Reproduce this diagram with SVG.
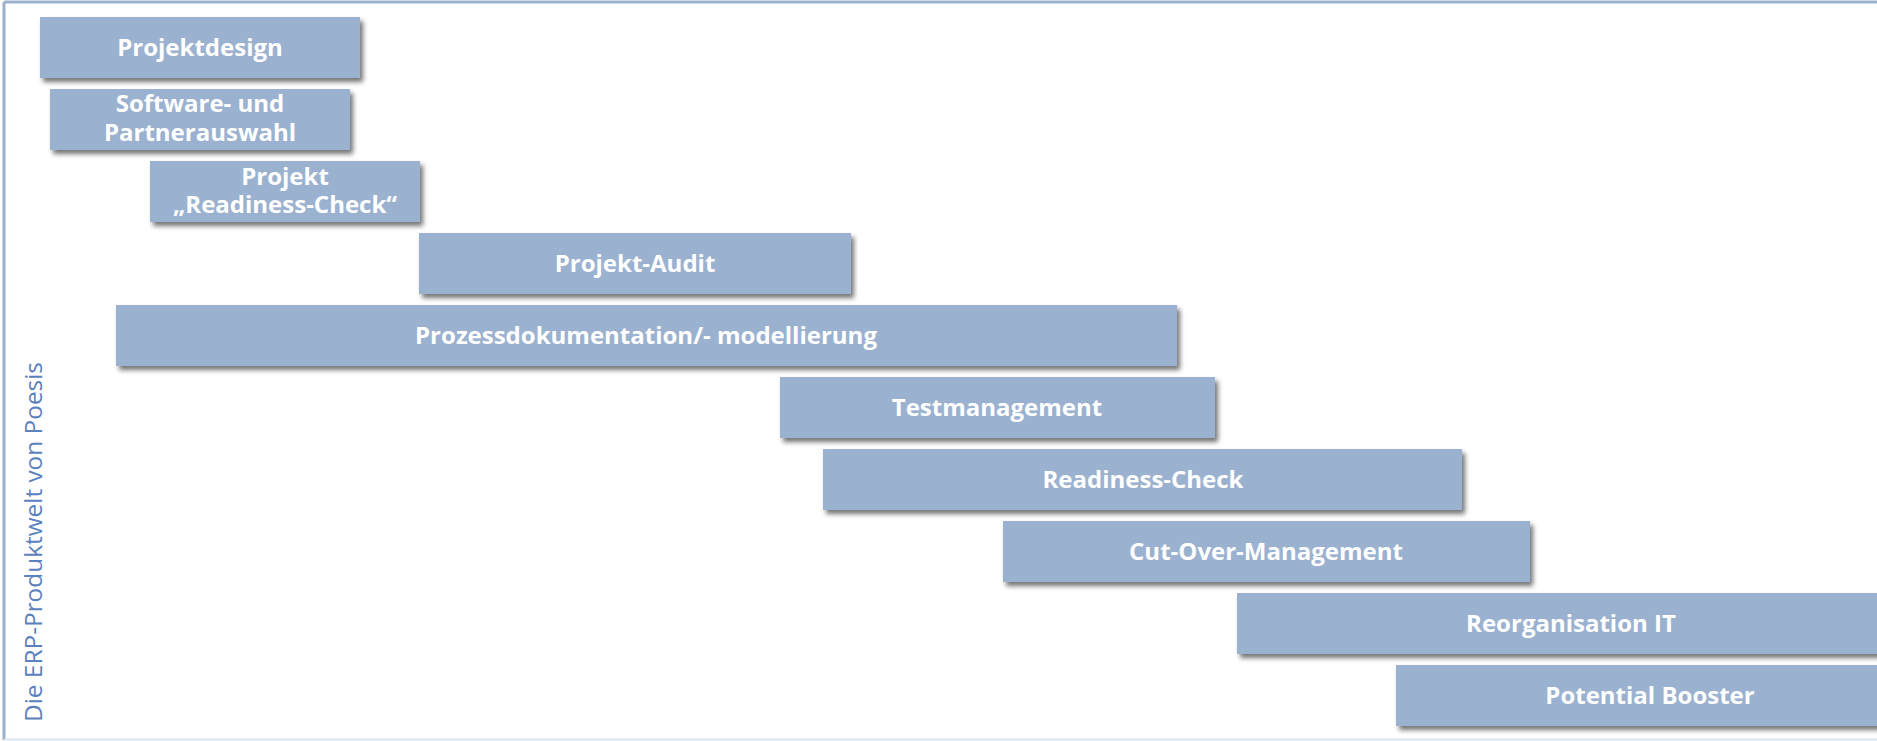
<svg xmlns="http://www.w3.org/2000/svg" width="1877" height="741" viewBox="0 0 1877 741">
<defs>
<filter id="sh" x="-5%" y="-20%" width="110%" height="150%">
<feDropShadow dx="3" dy="4" stdDeviation="2.5" flood-color="#000" flood-opacity="0.55"/>
</filter>
</defs>
<style>
.bar{fill:#9bb1d0;filter:url(#sh)}
.lbl{font-family:"Open Sans","Noto Sans",sans-serif;font-weight:bold;font-size:24px;fill:#ffffff;text-anchor:middle}
.side{font-family:"Open Sans","Noto Sans",sans-serif;font-weight:400;font-size:23px;fill:#5b82bd}
</style>
<rect x="0" y="0" width="1877" height="741" fill="#ffffff"/>
<g id="frame">
<line x1="4" y1="2" x2="1877" y2="2" stroke="#9bb1d0" stroke-width="3"/>
<line x1="4" y1="2" x2="4" y2="740" stroke="#9bb1d0" stroke-width="3"/>
<line x1="4" y1="739.5" x2="1877" y2="739.5" stroke="#dce5f1" stroke-width="2"/>
</g>
<text class="side" transform="translate(42,722) rotate(-90)" textLength="360" lengthAdjust="spacingAndGlyphs">Die ERP-Produktwelt von Poesis</text>
<g id="n1"><rect class="bar" x="40" y="17" width="320" height="61"/><text class="lbl" x="200" y="55.5">Projektdesign</text></g>
<g id="n2"><rect class="bar" x="50" y="89" width="300" height="61"/><text class="lbl" x="200" y="112">Software- und</text><text class="lbl" x="200" y="141">Partnerauswahl</text></g>
<g id="n3"><rect class="bar" x="150" y="161" width="270" height="61"/><text class="lbl" x="285" y="184.5">Projekt</text><text class="lbl" x="285" y="213">„Readiness-Check“</text></g>
<g id="n4"><rect class="bar" x="419" y="233" width="432" height="61"/><text class="lbl" x="635" y="271.5">Projekt-Audit</text></g>
<g id="n5"><rect class="bar" x="116" y="305" width="1061" height="61"/><text class="lbl" x="646" y="343.5">Prozessdokumentation/- modellierung</text></g>
<g id="n6"><rect class="bar" x="780" y="377" width="435" height="61"/><text class="lbl" x="997" y="415.5">Testmanagement</text></g>
<g id="n7"><rect class="bar" x="823" y="449" width="639" height="61"/><text class="lbl" x="1143" y="487.5">Readiness-Check</text></g>
<g id="n8"><rect class="bar" x="1003" y="521" width="527" height="61"/><text class="lbl" x="1266" y="559.5">Cut-Over-Management</text></g>
<g id="n9"><rect class="bar" x="1237" y="593" width="668" height="61"/><text class="lbl" x="1571" y="631.5">Reorganisation IT</text></g>
<g id="n10"><rect class="bar" x="1396" y="665" width="508" height="61"/><text class="lbl" x="1650" y="703.5">Potential Booster</text></g>
<g id="connectors"/>
</svg>
